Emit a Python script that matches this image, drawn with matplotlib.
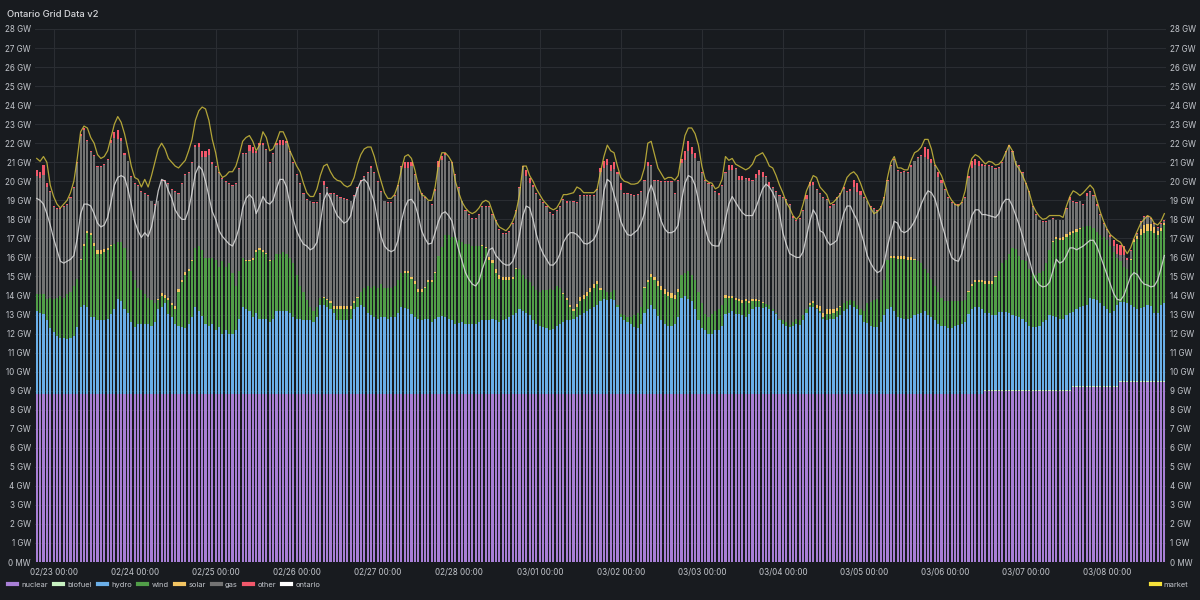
import numpy as np
import pandas as pd
import matplotlib
matplotlib.use("Agg")
import matplotlib.pyplot as plt
import matplotlib.dates as mdates
from matplotlib.lines import Line2D
from matplotlib.ticker import FuncFormatter, MultipleLocator

# hourly samples, 02/22 19:00 -> 03/08 17:00
times = pd.date_range("2025-02-22 19:00", periods=335, freq="h")

# GW
nuclear = [8.8] * 281 + [9.0] * 26 + [9.2] * 14 + [9.45] * 14
biofuel = [0.04] * 335
hydro = [
    # 0-57
    4.35, 4.25, 4.2, 3.85, 3.45, 3.25, 3.05, 2.95, 2.95, 2.85, 2.95, 3.05, 3.5, 4.55, 4.65, 4.55, 4.05, 4.05, 3.85, 3.85,
    3.85, 3.95, 4.2, 4.45, 4.95, 4.85, 4.45, 4.25, 3.75, 3.5, 3.65, 3.65, 3.65, 3.65, 3.55, 3.75, 4.45, 4.55, 4.75, 4.2,
    4.05, 3.65, 3.55, 3.5, 3.45, 3.65, 4.05, 4.55, 4.35, 4.1, 3.65, 3.55, 3.65, 3.35, 3.5, 3.15, 3.35, 3.15,
    # 58-113
    3.15, 3.35, 3.95, 4.55, 4.45, 4.35, 4.05, 4.25, 3.95, 3.95, 3.95, 3.75, 3.95, 4.35, 4.35, 4.35, 4.35, 4.25, 4.05, 3.95,
    3.95, 3.85, 3.85, 3.85, 3.75, 4.05, 4.65, 4.65, 4.55, 4.45, 4.25, 3.85, 3.85, 3.85, 3.85, 3.95, 4.45, 4.55, 4.65, 4.55,
    4.25, 4.15, 4.05, 3.95, 4.05, 4.05, 3.95, 4.05, 4.05, 4.25, 4.55, 4.5, 4.45, 4.2, 4.05, 3.95,
    # 114-166
    3.85, 3.9, 3.95, 3.75, 3.95, 4.05, 4.1, 4.05, 3.95, 3.85, 3.65, 3.7, 3.75, 3.65, 3.65, 3.65, 3.65, 3.75, 3.85, 3.85,
    3.85, 3.95, 3.85, 3.75, 3.85, 3.95, 4.05, 4.12, 4.25, 4.45, 4.35, 4.25, 4.12, 3.85, 3.65, 3.55, 3.5, 3.45, 3.35, 3.4,
    3.55, 3.65, 3.75, 3.85, 3.85, 3.95, 4.05, 4.12, 4.25, 4.35, 4.45, 4.55, 4.65,
    # 167-223
    4.85, 4.95, 4.9, 4.95, 4.9, 4.55, 4.05, 3.85, 3.75, 3.65, 3.5, 3.45, 3.65, 4.25, 4.45, 4.65, 4.45, 4.1, 3.85, 3.65,
    3.55, 3.55, 3.65, 4.05, 5.05, 5.15, 4.95, 4.85, 4.45, 3.85, 3.45, 3.35, 3.15, 3.15, 3.35, 3.35, 3.55, 4.2, 4.25, 4.35,
    4.2, 4.2, 4.15, 4.05, 4.2, 4.45, 4.55, 4.55, 4.5, 4.55, 4.45, 4.35, 4.2, 3.85, 3.65, 3.55, 3.5,
    # 224-273
    3.55, 3.65, 3.6, 3.85, 4.25, 4.55, 4.55, 4.45, 4.25, 3.95, 3.85, 3.95, 3.95, 4.05, 4.15, 4.35, 4.45, 4.65, 4.55, 4.45,
    4.11, 3.75, 3.7, 3.55, 3.5, 3.5, 3.75, 4.11, 4.45, 4.55, 4.35, 4.05, 4.0, 3.95, 3.95, 4.0, 4.11, 4.2, 4.25, 4.35,
    4.15, 4.05, 3.85, 3.65, 3.55, 3.55, 3.45, 3.45, 3.55, 3.6,
    # 274-334
    3.65, 3.75, 4.2, 4.45, 4.55, 4.55, 4.45, 4.05, 4.05, 3.95, 3.91, 4.1, 4.1, 4.1, 4.05, 3.92, 3.9, 3.85, 3.75, 3.55,
    3.35, 3.31, 3.31, 3.35, 3.55, 3.65, 3.92, 3.9, 3.85, 3.75, 3.75, 3.95, 4.05, 3.9, 4.05, 4.15, 4.2, 4.25, 4.65, 4.6,
    4.51, 4.35, 4.2, 4.05, 3.85, 3.95, 4.25, 4.17, 4.15, 4.1, 4.0, 3.9, 3.8, 3.85, 3.9, 4.0, 3.95, 3.6, 3.6, 4.0, 4.1,
]
wind = [
    0.9, 1.0, 1.05, 1.1, 1.6, 1.7, 2.0, 2.2, 2.1, 2.4, 2.4, 2.6, 2.55, 2.5, 3.1, 3.9, 4.3, 3.7, 3.5, 3.5,
    3.6, 3.6, 3.55, 3.4, 3.0, 3.1, 3.2, 2.8, 2.7, 2.45, 1.9, 1.8, 1.6, 1.4, 1.35, 1.0, 0.45, 0.6, 0.3, 0.7,
    0.6, 0.8, 1.8, 2.35, 2.8, 2.8, 2.9, 3.1, 3.4, 3.45, 3.5, 3.6, 3.5, 3.7, 3.15, 3.8, 3.3, 3.7,
    3.2, 2.3, 2.5, 2.6, 2.5, 2.6, 3.0, 3.2, 3.6, 3.5, 3.4, 3.2, 3.1, 3.0, 3.0, 3.1, 3.0, 2.9, 2.8, 2.3,
    1.7, 1.5, 1.05, 0.7, 0.6, 0.5, 0.4, 0.4, 0.35, 0.3, 0.2, 0.6, 0.6, 0.6, 0.6, 0.5, 0.3, 0.5, 0.7, 1.0,
    1.4, 1.4, 1.6, 1.6, 1.7, 1.5, 1.6, 1.5, 1.6, 1.7, 1.8, 1.85, 1.9, 1.85, 1.7, 1.4,
    1.5, 1.65, 1.9, 2.1, 2.4, 3.2, 3.6, 4.3, 4.4, 4.4, 4.6, 4.35, 4.2, 4.2, 4.2, 4.1, 4.1, 4.0, 3.9, 3.8,
    3.2, 2.9, 2.5, 2.3, 2.1, 2.0, 1.9, 1.93, 2.3, 2.1, 1.9, 1.8, 1.73, 1.8, 1.8, 1.8, 1.95, 2.0, 2.15, 2.05,
    2.1, 1.9, 1.5, 1.05, 0.7, 0.4, 0.5, 0.73, 0.7, 0.8, 0.9, 1.0, 1.1,
    0.6, 0.5, 0.45, 0.4, 0.55, 0.1, 0.15, 0.26, 0.3, 0.4, 0.61, 0.8, 0.9, 1.3, 1.4, 1.5, 1.5, 1.55, 1.6, 1.6,
    1.6, 1.5, 1.3, 1.3, 1.2, 1.2, 1.5, 1.4, 1.5, 1.5, 1.3, 0.85, 0.9, 1.05, 1.0, 1.1, 1.1, 0.85, 0.8, 0.7,
    0.7, 0.65, 0.6, 0.8, 0.55, 0.4, 0.3, 0.3, 0.25, 0.15, 0.2, 0.1, 0.05, 0.1, 0.2, 0.2, 0.1,
    0.2, 0.3, 0.25, 0.26, 0.2, 0.1, 0.2, 0.05, 0.1, 0.1, 0.35, 0.25, 0.3, 0.3, 0.4, 0.4, 0.4, 0.25, 0.3, 0.2,
    0.34, 0.6, 1.05, 1.25, 1.4, 1.45, 1.7, 1.84, 2.6, 2.6, 2.8, 3.05, 3.1, 3.15, 3.1, 3.05, 2.94, 2.75, 2.6, 2.2,
    2.2, 2.0, 1.8, 1.7, 1.5, 1.3, 1.4, 1.4, 1.3, 1.25,
    1.2, 1.15, 1.15, 1.2, 1.3, 1.3, 1.4, 1.5, 1.5, 1.6, 2.04, 2.15, 2.55, 2.75, 3.1, 3.53, 3.5, 3.2, 3.1, 3.2,
    3.0, 2.84, 2.74, 2.8, 2.7, 3.0, 3.43, 3.85, 4.1, 4.15, 4.15, 4.1, 4.1, 4.15, 4.05, 4.1, 4.15, 4.15, 3.75, 3.7,
    3.59, 3.6, 3.65, 3.6, 3.5, 3.1, 2.5, 2.13, 1.85, 1.8, 2.4, 3.4, 3.7, 3.85, 3.9, 3.9, 3.95, 4.2, 4.1, 3.9, 4.1,
]
solar = (
    [0] * 13 + [.05, .1, .1, .1, .15, .2, .2, .15, .1, .05] + [0] * 13
    + [.05, .15, .15, .15, .12, .17, .15, .15, .12, .1, .05] + [0] * 11
    + [0] * 4 + [.1] * 6 + [.05, .05] + [0] * 15
    + [.05, .05, .1, .15, .15, .15, .15, .15, .15, .1, .05] + [0] * 13 + [.1, .1, .1, .15, .15]
    + [.15, .05, .1, .1, .05] + [0] * 13 + [.05, .05, .12, .15, .18, .18, .18, .18, .18, .1, .05] + [0] * 13
    + [.05, .15, .1, .1, .15, .25, .25, .2, .2, .2, .15]
    + [.1] + [0] * 12 + [.05, .15, .15, .2, .25, .2, .25, .2, .25, .25, .15] + [0] * 13
    + [.15, .1, .1, .15, .12, .15, .1, .1, .1, .1, .05, .05] + [0] * 8
    + [0] * 5 + [.12, .1, .18, .25, .2, .25, .25, .2, .15, .05] + [0] * 14
    + [.1, .1, .12, .15, .12, .12, .12, .05] + [0] * 13
    + [0] * 2 + [.05, .1, .15, .15, .15, .15, .15, .15, .05] + [0] * 16
    + [.05, .1, .1, .15, .15, .15, .1, .15, .05] + [0] * 14
    + [.05, .1, .15, .3, .4, .35, .35, .3, .2, .15, .1]
)
gas = [
    6.2, 6.1, 6.25, 5.9, 5.55, 4.85, 4.65, 4.55, 4.75, 4.65, 4.95, 5.15, 6.05, 6.45, 6.0, 4.75, 4.25, 4.6, 4.35, 4.35,
    4.4, 4.65, 5.35, 5.6, 5.45, 5.3, 4.9, 5.15, 4.95, 5.05, 5.35, 5.15, 5.25, 5.35, 5.2, 5.15, 5.15, 5.85, 6.0, 5.95,
    5.93, 5.98, 5.0, 5.0, 5.13, 5.05, 5.1, 5.3, 5.2, 4.9, 5.3, 5.4, 4.9, 4.85, 4.95, 4.35, 4.45, 4.15,
    4.55, 5.35, 5.35, 5.45, 5.55, 5.7, 5.5, 5.1, 5.4, 5.5, 5.4, 5.1, 5.55, 5.7, 5.7, 5.6, 5.8, 5.55, 5.25, 5.25,
    5.35, 5.15, 5.3, 5.55, 5.65, 5.45, 5.45, 5.85, 5.85, 5.65, 5.9, 5.8, 5.7, 5.65, 5.6, 5.5, 5.55, 5.7, 5.85, 5.85,
    5.95, 6.3, 5.95, 5.55, 4.85, 4.55, 4.45, 4.45, 4.75, 4.95, 5.55, 5.4, 5.4, 5.8, 5.6, 5.5,
    5.0, 4.7, 4.15, 3.95, 4.25, 4.65, 4.6, 4.2, 3.85, 3.85, 3.25, 2.75, 2.15, 1.75, 1.55, 1.45, 1.45, 1.65, 2.0, 2.1,
    2.63, 2.4, 2.53, 2.37, 2.27, 2.27, 2.37, 2.75, 3.0, 4.25, 5.65, 5.4, 5.2, 5.2, 5.05, 4.85, 4.55, 4.35, 4.0, 3.95,
    3.95, 4.25, 4.9, 4.95, 5.45, 5.6, 5.3, 5.3, 5.2, 5.05, 4.85, 4.65, 4.8,
    6.1, 6.4, 6.65, 6.35, 6.35, 6.9, 6.5, 6.39, 6.45, 6.4, 6.29, 6.2, 6.05, 5.6, 5.95, 5.65, 5.05, 5.3, 5.45, 5.6,
    5.75, 5.8, 5.3, 5.65, 5.85, 5.95, 6.3, 6.35, 6.45, 6.85, 6.85, 7.0, 6.95, 6.7, 6.25, 6.0, 6.25, 6.4, 6.6, 6.6,
    6.75, 6.28, 6.35, 6.35, 6.35, 6.25, 6.4, 6.6, 6.6, 6.7, 6.27, 6.35, 6.35, 6.45, 6.45, 6.45, 6.3,
    5.5, 5.11, 5.35, 5.49, 5.8, 6.15, 6.12, 6.02, 5.9, 6.05, 5.75, 5.3, 5.45, 5.8, 5.9, 6.0, 5.75, 5.75, 6.01, 5.95,
    6.0, 5.95, 5.35, 5.0, 4.8, 4.65, 4.35, 4.35, 4.11, 4.7, 5.05, 4.48, 4.35, 4.43, 4.43, 4.73, 5.1, 5.45, 5.65, 5.9,
    6.0, 6.05, 6.3, 6.05, 6.0, 5.85, 5.45, 5.15, 5.05, 5.05,
    5.15, 5.4, 5.95, 6.1, 6.0, 5.95, 5.95, 6.05, 6.05, 6.0, 5.6, 5.4, 5.25, 5.65, 5.6, 5.05, 4.6, 4.7, 4.55, 4.05,
    4.05, 3.45, 3.15, 2.75, 2.55, 2.15, 1.55, 1.2, 0.85, 0.9, 0.85, 1.3, 1.7, 1.5, 1.35, 1.4, 1.15, 1.6, 1.8, 1.7,
    1.35, 1.05, 0.65, 0.55, 0.5, 0.3, 0.2, 0.35, 0.65, 0.5, 0.4, 0.05, 0.1, 0.35, 0.45, 0.4, 0.3, 0.15, 0.15, 0.2, 0.11,
]
other = (
    [.3, .3, .5, .2] + [.05] * 9 + [.1, .1] + [.05] * 7 + [.2, .3, .45, .2, .1] + [.05] * 10 + [.1] + [.05] * 9
    + [.1, .2, .3, .3, .3, .1] + [.05] * 5
    + [.05] * 5 + [.3, .3, .1, .1, .1] + [.05] * 3 + [.1, .3, .3, .1] + [.05] * 10 + [.2] + [.05] * 13 + [.1]
    + [.05] * 9 + [.3, .3, .2] + [.05] * 2
    + [.05] * 4 + [.1, .35, .2, .1] + [.05] * 23 + [.3, .3, .1] + [.05] * 9 + [.15] + [.05] * 9
    + [.2, .4, .35, .3, .35, .1, .35] + [.05] * 7 + [.2] + [.05] * 8 + [.1, .25, .45, .5, .35, .25] + [.05] * 6
    + [.1] + [.05] * 2 + [.25, .25, .05, .2, .2, .05, .15, .05, .2, .25, .25, .05, .2] + [.05] * 6
    + [.1] + [.05] * 3 + [.2, .2, .15] + [.05] * 4 + [.1] + [.05] * 3 + [.1, .05, .1, .35, .45, .2] + [.05] * 14
    + [.1] + [.05] * 3 + [.5, .5, .25, .05, .25, .2] + [.05] * 5
    + [.05] * 2 + [.1, .4, .35, .3, .1] + [.05] * 7 + [.1] + [.05] * 17 + [.15, .1] + [.05] * 3 + [.15]
    + [.05] * 2 + [.1] + [.05] * 3 + [.1, .3, .5, .5, .45, .1] + [.05] * 11
)

# line series (GW)
ontario = [
    19.1, 19.0, 18.8, 18.3, 17.7, 17.0, 16.4, 15.8, 15.7, 15.8, 15.9, 16.1, 17.0, 18.3, 18.8, 18.8, 18.7, 18.3, 17.8, 17.6,
    17.7, 18.1, 18.9, 19.8, 20.2, 20.3, 20.2, 19.6, 18.8, 17.9, 17.4, 17.05, 17.3, 17.1, 17.6, 18.5, 19.5, 20.1, 20.0, 19.5,
    19.1, 18.5, 18.2, 18.0, 18.0, 18.5, 19.4, 20.4, 20.8, 20.6, 20.0, 19.2, 18.4, 18.0, 17.4, 17.1, 16.9, 16.7,
    16.6, 17.0, 17.6, 18.6, 19.1, 19.3, 19.1, 18.3, 18.7, 19.2, 18.9, 18.8, 19.0, 19.6, 20.1, 20.1, 19.7, 18.8, 18.0, 17.4,
    17.0, 16.7, 16.6, 16.4, 16.5, 16.8, 17.8, 19.0, 19.4, 19.1, 18.6, 18.2, 18.0, 17.8, 17.9, 18.2, 19.0, 19.6, 20.0, 20.1,
    19.9, 19.4, 18.9, 17.9, 17.1, 16.6, 16.4, 16.3, 16.4, 16.9, 17.9, 18.6, 19.0, 19.05, 18.8, 18.2,
    17.4, 17.0, 16.7, 16.75, 17.3, 17.9, 18.3, 18.4, 18.2, 17.9, 17.1, 16.4, 15.8, 15.2, 14.85, 14.6, 14.5, 14.75, 15.4, 15.9,
    16.4, 16.5, 16.1, 15.9, 15.7, 15.6, 15.6, 15.8, 16.3, 17.2, 18.2, 18.7, 18.6, 18.0, 17.2, 16.6, 16.2, 15.9, 15.6, 15.6,
    15.8, 16.2, 16.8, 17.1, 17.3, 17.3, 17.2, 17.0, 16.75, 16.7, 16.8, 16.95, 17.3,
    18.0, 19.5, 20.1, 19.95, 19.3, 18.7, 17.9, 17.5, 17.2, 17.15, 17.3, 17.45, 17.8, 18.3, 19.3, 19.8, 19.3, 18.5, 17.9, 17.5,
    17.3, 17.3, 17.4, 17.7, 19.0, 19.9, 20.3, 20.2, 19.8, 19.0, 18.2, 17.5, 16.9, 16.65, 16.6, 16.6, 17.1, 18.0, 18.8, 19.2,
    18.9, 18.6, 18.35, 18.2, 18.2, 18.2, 18.6, 19.1, 19.6, 19.85, 19.7, 19.4, 19.0, 18.3, 17.3, 16.7, 16.2,
    16.1, 16.0, 16.0, 16.3, 17.1, 17.9, 18.5, 18.2, 17.4, 17.3, 16.9, 16.65, 16.75, 16.9, 17.6, 18.3, 18.7, 18.7, 18.3, 17.96,
    17.4, 16.8, 16.1, 15.7, 15.4, 15.2, 15.3, 15.7, 16.6, 17.3, 17.9, 17.8, 17.4, 17.3, 17.4, 17.6, 17.9, 18.3, 18.8, 19.2,
    19.5, 19.4, 19.1, 18.5, 17.8, 17.2, 16.5, 16.0, 15.85, 15.8,
    16.2, 16.9, 17.5, 18.2, 18.5, 18.5, 18.25, 18.25, 18.2, 18.15, 18.1, 18.3, 18.8, 19.05, 19.05, 18.7, 18.2, 17.7, 17.1, 16.4,
    15.9, 15.2, 14.8, 14.55, 14.45, 14.5, 14.7, 15.3, 15.9, 15.7, 15.8, 16.1, 16.5, 16.5, 16.4, 16.5, 16.6, 16.75, 16.9, 16.9,
    16.6, 16.1, 15.6, 15.1, 14.6, 14.1, 13.8, 13.75, 14.0, 14.5, 15.0, 15.2, 15.1, 14.8, 14.6, 14.55, 14.45, 14.5, 14.8, 15.4, 16.1,
]
market = [
    21.2, 21.05, 21.3, 21.0, 19.8, 19.2, 18.8, 18.6, 18.8, 19.0, 19.4, 20.0, 21.2, 22.6, 22.9, 22.8, 22.3, 22.0, 21.4, 21.2,
    21.3, 21.6, 22.3, 23.0, 23.4, 23.1, 22.5, 21.7, 20.8, 20.2, 20.1, 19.7, 20.1, 19.7, 20.3, 21.0, 21.7, 22.0, 21.7, 21.2,
    21.0, 20.8, 20.7, 20.9, 21.1, 21.6, 22.2, 23.2, 23.7, 23.9, 23.8, 23.2, 22.2, 21.5, 20.5, 20.2, 20.3, 20.5,
    20.5, 20.8, 21.4, 22.1, 22.3, 22.4, 22.1, 21.6, 21.9, 22.6, 22.3, 21.6, 21.7, 22.1, 22.6, 22.6, 22.2, 21.6, 21.2, 20.8,
    20.5, 19.9, 19.4, 19.2, 19.2, 19.6, 20.3, 20.8, 20.9, 20.5, 20.2, 20.05, 20.0, 19.8, 19.7, 19.8, 20.2, 20.9, 21.4, 21.7,
    21.8, 21.8, 21.3, 20.6, 20.0, 19.4, 19.1, 19.1, 19.3, 19.8, 20.6, 21.3, 21.4, 21.2, 20.6, 19.8,
    19.3, 19.2, 19.0, 19.0, 19.7, 20.9, 21.5, 21.5, 21.3, 21.0, 20.0, 19.4, 18.9, 18.6, 18.4, 18.3, 18.4, 18.6, 18.9, 19.0,
    18.9, 18.4, 17.9, 17.6, 17.5, 17.4, 17.6, 17.9, 18.4, 19.3, 20.8, 20.8, 20.3, 20.0, 19.6, 19.3, 19.0, 18.8, 18.6, 18.5,
    18.6, 18.9, 19.3, 19.3, 19.35, 19.4, 19.7, 19.6, 19.4, 19.4, 19.4, 19.4, 19.6,
    20.5, 21.3, 21.9, 21.6, 21.5, 20.8, 20.2, 20.0, 19.95, 19.85, 19.85, 19.9, 20.1, 20.7, 22.0, 22.1, 21.4, 20.7, 20.4, 20.1,
    20.2, 20.2, 20.06, 20.3, 21.4, 22.4, 22.8, 22.8, 22.5, 21.9, 20.8, 20.1, 19.95, 19.9, 19.6, 19.7, 20.1, 21.3, 21.1, 21.2,
    20.9, 20.8, 20.7, 20.6, 20.7, 20.9, 21.3, 21.4, 21.5, 21.2, 20.8, 20.7, 20.3, 19.8, 19.4, 18.9, 18.6,
    18.2, 18.0, 18.2, 18.8, 19.5, 19.9, 20.3, 20.2, 19.7, 19.5, 19.3, 18.8, 18.9, 19.1, 19.3, 19.7, 20.2, 20.4, 20.5, 20.3,
    19.9, 19.4, 19.0, 18.6, 18.3, 18.4, 18.6, 19.1, 20.2, 21.0, 21.3, 20.7, 20.7, 20.6, 20.6, 21.1, 21.5, 21.6, 21.8, 22.2,
    22.2, 21.7, 20.9, 20.6, 20.3, 19.8, 19.3, 19.0, 18.8, 18.7,
    18.9, 19.5, 20.6, 21.2, 21.4, 21.3, 21.1, 20.9, 21.05, 21.0, 20.85, 20.9, 21.1, 21.5, 21.9, 21.6, 20.9, 20.65, 20.3, 19.9,
    19.4, 18.75, 18.4, 18.15, 18.0, 18.05, 18.2, 18.2, 18.2, 18.2, 18.1, 18.7, 19.2, 19.5, 19.4, 19.25, 19.4, 19.6, 19.8, 19.6,
    19.0, 18.4, 17.9, 17.5, 17.2, 17.05, 16.9, 16.8, 16.5, 16.2, 16.5, 17.0, 17.4, 17.8, 18.0, 18.2, 18.1, 17.8, 17.7, 17.9, 18.3,
]

BG = "#181b1f"
TXT = "#c3c6cc"
GRID = "#2a2d32"
plt.rcParams["font.family"] = ["Inter", "DejaVu Sans"]

stack = [
    ("nuclear", nuclear, "#a87fd6"),
    ("biofuel", biofuel, "#c8f2c2"),
    ("hydro", hydro, "#6aafe8"),
    ("wind", wind, "#519e48"),
    ("solar", solar, "#f2c462"),
    ("gas", gas, "#737373"),
    ("other", other, "#f2586b"),
]

fig = plt.figure(figsize=(12, 6), dpi=100, facecolor=BG)
ax = fig.add_axes([0.0292, 0.0633, 0.9425, 0.8884])
ax.set_facecolor(BG)

x = mdates.date2num(times)
bottom = np.zeros(len(x))
for name, vals, col in stack:
    v = np.array(vals, dtype=float)
    ax.bar(x, v, width=0.64 / 24, bottom=bottom, color=col, linewidth=0, zorder=2)
    bottom += v

ax.plot(x, ontario, color="#dcdcdc", lw=0.9, alpha=0.85, zorder=4)

ax2 = ax.twinx()
ax2.plot(x, market, color="#d8c63e", lw=0.9, alpha=0.8, zorder=4)

def gw(v, pos):
    return "0 MW" if v == 0 else f"{v:.0f} GW"

for a in (ax, ax2):
    a.set_ylim(0, 28)
    a.yaxis.set_major_locator(MultipleLocator(1))
    a.yaxis.set_major_formatter(FuncFormatter(gw))
    a.tick_params(axis="y", length=0, labelsize=5.8, labelcolor=TXT, pad=3)
    for s in a.spines.values():
        s.set_visible(False)

ax.set_xlim(x[0] - 0.5 / 24, x[-1] + 0.5 / 24)
ax.xaxis.set_major_locator(mdates.DayLocator())
ax.xaxis.set_major_formatter(mdates.DateFormatter("%m/%d %H:%M"))
ax.tick_params(axis="x", length=0, labelsize=5.8, labelcolor=TXT, pad=4)
ax.grid(True, color=GRID, lw=0.8, zorder=0)
ax.set_axisbelow(True)

fig.text(0.006, 0.983, "Ontario Grid Data v2", fontsize=6.8, color="#d4d5d9",
         va="top", ha="left", fontweight="medium")

handles = [Line2D([], [], color=c, lw=3) for _, _, c in stack]
handles.append(Line2D([], [], color="#ffffff", lw=3))
labels = [n for n, _, _ in stack] + ["ontario"]
leg = fig.legend(handles, labels, loc="center left", bbox_to_anchor=(0.003, 0.026), ncol=8,
                 frameon=False, fontsize=5.4, handlelength=1.2, handletextpad=0.55,
                 columnspacing=0.85, borderaxespad=0.2)
for t in leg.get_texts():
    t.set_color(TXT)
leg2 = fig.legend([Line2D([], [], color="#f5e13a", lw=3)], ["market"], loc="center right",
                  bbox_to_anchor=(0.996, 0.026), frameon=False, fontsize=5.4,
                  handlelength=1.2, handletextpad=0.55)
for t in leg2.get_texts():
    t.set_color(TXT)

fig.savefig("out.png", dpi=100, facecolor=BG)
